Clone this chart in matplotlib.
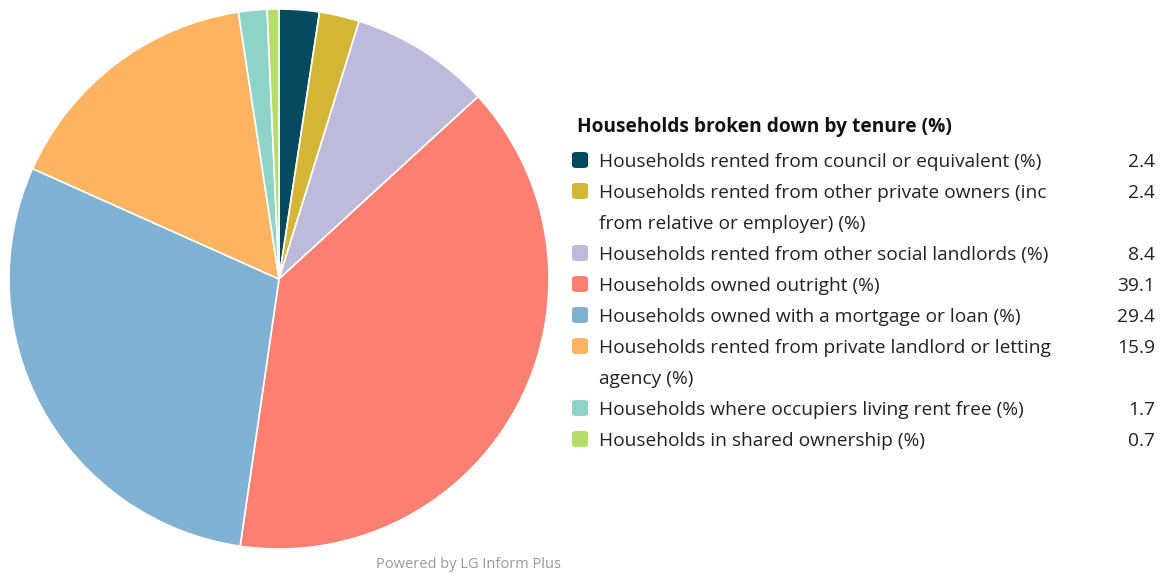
import matplotlib.pyplot as plt
from matplotlib.patches import FancyBboxPatch

plt.rcParams['font.family'] = ['Open Sans', 'DejaVu Sans']

# data
labels = ['Households rented from council or equivalent (%)',
          'Households rented from other private owners (inc\nfrom relative or employer) (%)',
          'Households rented from other social landlords (%)',
          'Households owned outright (%)',
          'Households owned with a mortgage or loan (%)',
          'Households rented from private landlord or letting\nagency (%)',
          'Households where occupiers living rent free (%)',
          'Households in shared ownership (%)']
values = [2.4, 2.4, 8.4, 39.1, 29.4, 15.9, 1.7, 0.7]
colors = ['#064a5f', '#d4b536', '#bebada', '#fb8072',
          '#80b1d3', '#fdb462', '#8dd3c7', '#b3de69']
title = 'Households broken down by tenure (%)'

W, H = 1166, 574
fig = plt.figure(figsize=(W / 100, H / 100), dpi=100)

# pie
ax = fig.add_axes([9 / W, (H - 549) / H, 540 / W, 540 / H])
ax.pie(values, colors=colors, startangle=90, counterclock=False,
       wedgeprops=dict(edgecolor='white', linewidth=1.2))
ax.set_xlim(-1, 1)
ax.set_ylim(-1, 1)
ax.set_aspect('equal')

# legend
fs = 13.8
dy = 2  # text baseline nudge
fig.text(577 / W, 1 - (125 + dy) / H, title, fontsize=fs, fontweight='bold',
         va='center', ha='left', color='#111111')

line_h = 31
y = 160
for lab, val, col in zip(labels, values, colors):
    box = FancyBboxPatch((572 / W, 1 - (y + 8) / H), 16 / W, 16 / H,
                         boxstyle='round,pad=0,rounding_size=0.004',
                         transform=fig.transFigure, facecolor=col,
                         edgecolor='none')
    fig.patches.append(box)
    lines = lab.split('\n')
    for i, ln in enumerate(lines):
        fig.text(599 / W, 1 - (y + dy + i * line_h) / H, ln, fontsize=fs,
                 va='center', ha='left', color='#222222')
    fig.text(1155 / W, 1 - (y + dy) / H, f'{val:.1f}', fontsize=fs,
             va='center', ha='right', color='#222222')
    y += line_h * len(lines)

fig.text(469 / W, 1 - 565 / H, 'Powered by LG Inform Plus', fontsize=10.5,
         va='center', ha='center', color='#999999')

plt.savefig('out.png', dpi=100)
